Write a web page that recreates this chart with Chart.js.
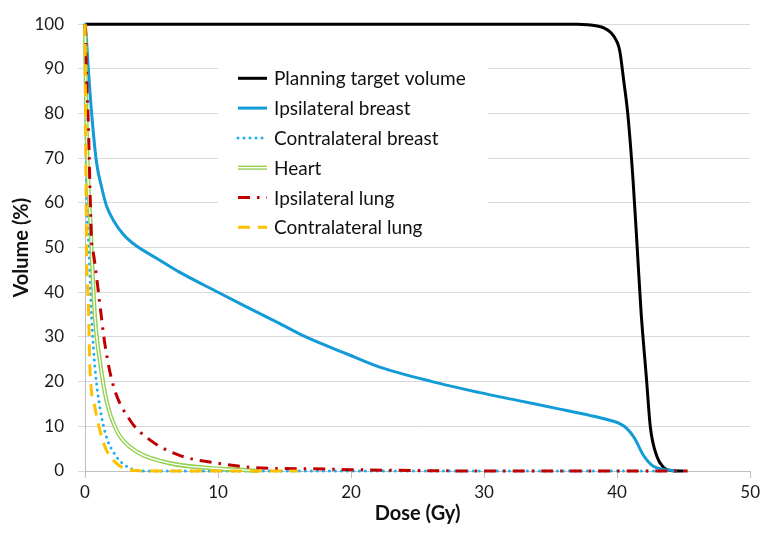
<!DOCTYPE html>
<html>
<head>
<meta charset="utf-8">
<script src="https://cdn.jsdelivr.net/npm/chart.js@4.4.1/dist/chart.umd.min.js"></script>
<style>
  html, body { margin: 0; padding: 0; background: #fff; }
  #wrap { width: 764px; height: 534px; }
</style>
</head>
<body>
<div id="wrap"><canvas id="dvhChart" width="764" height="534"></canvas></div>
<script>
// --- DATOS (dosis en Gy, volumen en %) ---
const ptvDose = [0, 10, 20, 30, 37, 37.8, 38.5, 39, 39.5, 40, 40.2, 40.5, 40.8, 41.2, 41.5, 41.8, 42.2, 42.5, 43, 43.5, 44, 45];
const ptvVolume = [100, 100, 100, 100, 100, 99.9, 99.6, 99.2, 98.2, 96, 94, 87.3, 80, 65, 50.5, 35.6, 20.9, 9.8, 3.2, 0.8, 0.1, 0];

const ipsiBreastDose = [0, 0.1, 0.25, 0.5, 0.87, 1.25, 1.62, 2.2, 2.87, 3.5, 4.1, 5.5, 7.1, 10, 12.1, 14.5, 16.6, 19.6, 22.1, 26.1, 29.6, 32.5, 35.6, 38, 39.5, 40.2, 40.7, 41.3, 42, 42.6, 43, 43.8, 44.5];
const ipsiBreastVolume = [100, 97, 90, 80, 69, 63.5, 59.3, 55.8, 53, 51.2, 49.9, 47.4, 44.5, 40, 36.8, 33.2, 30, 26.3, 23.3, 20, 17.6, 15.8, 13.9, 12.4, 11.3, 10.6, 9.6, 7.4, 3.4, 1.3, 0.7, 0.2, 0];

const contraBreastDose = [0, 0.05, 0.1, 0.3, 0.5, 0.75, 1.12, 1.62, 2.37, 3.4, 4.6, 10, 20, 30, 43.5];
const contraBreastVolume = [100, 80, 65, 49, 34.2, 23.1, 14.2, 7.6, 3.2, 0.6, 0, 0, 0, 0, 0];

const heartDose = [0, 0.05, 0.1, 0.25, 0.42, 0.5, 0.75, 1.12, 1.62, 2.37, 3.37, 5.86, 9.6, 12.1, 13];
const heartVolume = [100, 90, 80, 64, 55, 49, 34.2, 24.6, 15.7, 9.1, 5.4, 2.1, 0.6, 0.2, 0];

const ipsiLungDose = [0, 0.05, 0.12, 0.25, 0.37, 0.5, 0.62, 1.17, 1.5, 2.1, 3.4, 4.9, 7.1, 10.1, 13.8, 17, 20, 25, 30, 45.3];
const ipsiLungVolume = [100, 97.6, 88, 77.7, 63.7, 51, 48.9, 36, 28.3, 19.4, 11.3, 6.9, 3.5, 1.7, 0.6, 0.5, 0.3, 0.1, 0, 0];

const contraLungDose = [0, 0.05, 0.12, 0.25, 0.37, 0.75, 1.12, 1.62, 2.37, 3.4, 5, 16];
const contraLungVolume = [100, 75, 49, 37.9, 23.1, 14.2, 9.1, 4.6, 1.7, 0.2, 0, 0];

const seriesLabels = ['Planning target volume', 'Ipsilateral breast', 'Contralateral breast', 'Heart', 'Ipsilateral lung', 'Contralateral lung'];
const xTicks = [0, 10, 20, 30, 40, 50];
const yTicks = [0, 10, 20, 30, 40, 50, 60, 70, 80, 90, 100];

// --- UTILIDADES ---
function toPoints(dose, volume) {
    return dose.map((d, i) => ({ x: d, y: volume[i] }));
}

const FONT = 'Lato, "Open Sans", sans-serif';

// --- LEYENDA DENTRO DEL GRAFICO ---
const insideLegend = {
    id: 'insideLegend',
    afterDatasetsDraw(chart) {
        const ctx = chart.ctx;
        const items = chart.data.datasets.filter(ds => !ds.legendHide);
        const boxLeft = 218, boxTop = 57, rowH = 29.8, firstRow = 78.3;
        ctx.save();
        ctx.fillStyle = '#ffffff';
        ctx.fillRect(boxLeft, boxTop, 270, 184);
        items.forEach((ds, i) => {
            const y = firstRow + i * rowH;
            ctx.beginPath();
            ctx.moveTo(238, y);
            ctx.lineTo(267, y);
            ctx.strokeStyle = ds.borderColor;
            ctx.lineWidth = ds.borderWidth;
            ctx.lineCap = ds.borderCapStyle || 'butt';
            ctx.setLineDash(ds.borderDash || []);
            ctx.stroke();
            if (ds.doubleLine) {
                ctx.beginPath();
                ctx.moveTo(238, y);
                ctx.lineTo(267, y);
                ctx.strokeStyle = '#ffffff';
                ctx.lineWidth = 1.4;
                ctx.setLineDash([]);
                ctx.stroke();
            }
            ctx.setLineDash([]);
            ctx.fillStyle = '#111';
            ctx.font = '19px ' + FONT;
            ctx.textBaseline = 'middle';
            ctx.textAlign = 'left';
            ctx.fillText(ds.label, 274, y + 1);
        });
        ctx.restore();
    }
};

const common = { pointRadius: 0, fill: false, clip: 4, cubicInterpolationMode: 'monotone' };

const datasets = [
    Object.assign({}, common, {
        label: seriesLabels[0], data: toPoints(ptvDose, ptvVolume),
        borderColor: '#000000', borderWidth: 3, order: 7
    }),
    Object.assign({}, common, {
        label: seriesLabels[1], data: toPoints(ipsiBreastDose, ipsiBreastVolume),
        borderColor: '#129bd6', borderWidth: 3, order: 6
    }),
    Object.assign({}, common, {
        label: seriesLabels[2], data: toPoints(contraBreastDose, contraBreastVolume),
        borderColor: '#1ab0f0', borderWidth: 3, borderDash: [0, 6], borderCapStyle: 'round', order: 5
    }),
    Object.assign({}, common, {
        label: seriesLabels[3], data: toPoints(heartDose, heartVolume),
        borderColor: '#92d050', borderWidth: 4.2, doubleLine: true, order: 4
    }),
    // linea blanca interior para el trazo doble del corazon
    Object.assign({}, common, {
        label: 'heart-inner', legendHide: true, data: toPoints(heartDose, heartVolume),
        borderColor: '#ffffff', borderWidth: 1.4, order: 3.5
    }),
    Object.assign({}, common, {
        label: seriesLabels[4], data: toPoints(ipsiLungDose, ipsiLungVolume),
        borderColor: '#c00000', borderWidth: 3, borderDash: [12, 7, 2.5, 7], order: 2
    }),
    Object.assign({}, common, {
        label: seriesLabels[5], data: toPoints(contraLungDose, contraLungVolume),
        borderColor: '#ffc000', borderWidth: 3, borderDash: [12, 8], order: 1
    })
];

const ctx = document.getElementById('dvhChart').getContext('2d');
new Chart(ctx, {
    type: 'line',
    data: { datasets },
    plugins: [insideLegend],
    options: {
        responsive: false,
        animation: false,
        devicePixelRatio: 1,
        layout: { padding: { top: 19, right: 11, left: 0, bottom: 0 } },
        plugins: { legend: { display: false }, tooltip: { enabled: false } },
        scales: {
            x: {
                type: 'linear', min: 0, max: 50,
                afterBuildTicks: (scale) => { scale.ticks = xTicks.map(v => ({ value: v })); },
                afterFit: (scale) => { scale.height = 63; },
                ticks: { color: '#1a1a1a', font: { family: FONT, size: 17 }, padding: 4, maxRotation: 0 },
                grid: { drawOnChartArea: false, drawTicks: true, tickLength: 7, color: '#bfbfbf' },
                border: { color: '#bfbfbf' },
                title: {
                    display: true, text: 'Dose (Gy)', color: '#111',
                    font: { family: FONT, size: 20, weight: 'bold' }, padding: { top: 4, bottom: 8 }
                }
            },
            y: {
                min: 0, max: 100,
                afterBuildTicks: (scale) => { scale.ticks = yTicks.map(v => ({ value: v })); },
                afterFit: (scale) => { scale.width = 85; },
                ticks: { color: '#1a1a1a', font: { family: FONT, size: 17 }, padding: 14 },
                grid: { color: '#d9d9d9', tickLength: 7 },
                border: { color: '#bfbfbf' },
                title: {
                    display: true, text: 'Volume (%)', color: '#111',
                    font: { family: FONT, size: 20, weight: 'bold' }, padding: { top: 10, bottom: 4 }
                }
            }
        }
    }
});
</script>
</body>
</html>
